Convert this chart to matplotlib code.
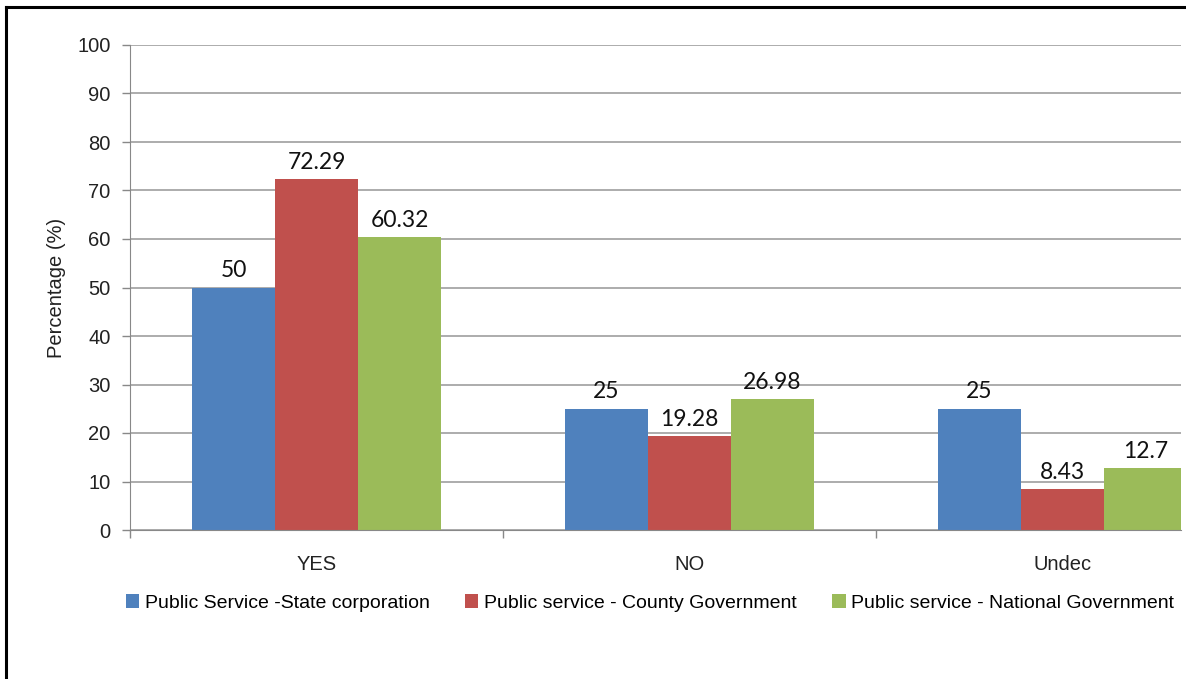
import matplotlib.pyplot as plt
import numpy as np
from matplotlib import font_manager
from matplotlib.lines import Line2D

categories = ['YES', 'NO', 'Undec']
series_names = [
    'Public Service -State corporation',
    'Public service - County Government',
    'Public service - National Government',
]
state_corp = [50, 25, 25]
county_gov = [72.29, 19.28, 8.43]
national_gov = [60.32, 26.98, 12.7]
value_labels = [
    ['50', '25', '25'],
    ['72.29', '19.28', '8.43'],
    ['60.32', '26.98', '12.7'],
]
colors = ['#4F81BD', '#C0504D', '#9BBB59']

installed = {f.name for f in font_manager.fontManager.ttflist}
axis_font = 'Liberation Sans Narrow' if 'Liberation Sans Narrow' in installed else 'Liberation Sans'
label_font = 'Lato'

fig = plt.figure(figsize=(11.86, 6.79), dpi=100)
ax = fig.add_axes([130 / 1186, 1 - 530 / 679, (1181 - 130) / 1186, (530 - 45) / 679])

x = np.arange(len(categories))
width = 0.2225
for i, (vals, name, c) in enumerate(zip([state_corp, county_gov, national_gov], series_names, colors)):
    pos = x + (i - 1) * width
    bars = ax.bar(pos, vals, width, color=c, label=name, zorder=2)
    for b, txt in zip(bars, value_labels[i]):
        ax.annotate(txt, (b.get_x() + b.get_width() / 2, b.get_height()),
                    xytext=(0, 4.5), textcoords='offset points', ha='center', va='bottom',
                    fontsize=16.5, family=label_font, color='#111111')

ax.set_ylim(0, 100)
ax.set_yticks(range(0, 101, 10))
ax.set_xlim(-0.5, -0.5 + (1181 - 130) / 373)
ax.set_xticks(x)
ax.set_xticklabels(categories)
ax.set_xticks([-0.5, 0.5, 1.5], minor=True)
ax.tick_params(axis='x', which='major', length=0, pad=18)
ax.tick_params(axis='x', which='minor', length=6, color='#888888', width=1)
ax.tick_params(axis='y', length=6, color='#888888', width=1, pad=8)
for lbl in ax.get_xticklabels() + ax.get_yticklabels():
    lbl.set_family(axis_font)
    lbl.set_fontsize(14.5)
    lbl.set_color('#222222')

ax.grid(axis='y', color='#a6a6a6', linewidth=1.3, zorder=0)
ax.set_axisbelow(True)
for s in ['top', 'right']:
    ax.spines[s].set_visible(False)
for s in ['left', 'bottom']:
    ax.spines[s].set_color('#888888')
ax.set_ylabel('Percentage (%)', family=axis_font, fontsize=14.5, color='#222222', labelpad=8)

fig.legend(loc='center', bbox_to_anchor=(650 / 1186, 1 - 603 / 679), ncol=3, frameon=False,
           handlelength=0.7, handleheight=0.7, handletextpad=0.3, columnspacing=1.8,
           prop={'family': axis_font, 'size': 14})

# frame edges on the left and top
fig.add_artist(Line2D([6 / 1186, 6 / 1186], [0, 1 - 7 / 679], color='black', linewidth=2.2,
                      transform=fig.transFigure))
fig.add_artist(Line2D([6 / 1186, 1], [1 - 7 / 679, 1 - 7 / 679], color='black', linewidth=2.2,
                      transform=fig.transFigure))

fig.savefig('out.png', dpi=100)
